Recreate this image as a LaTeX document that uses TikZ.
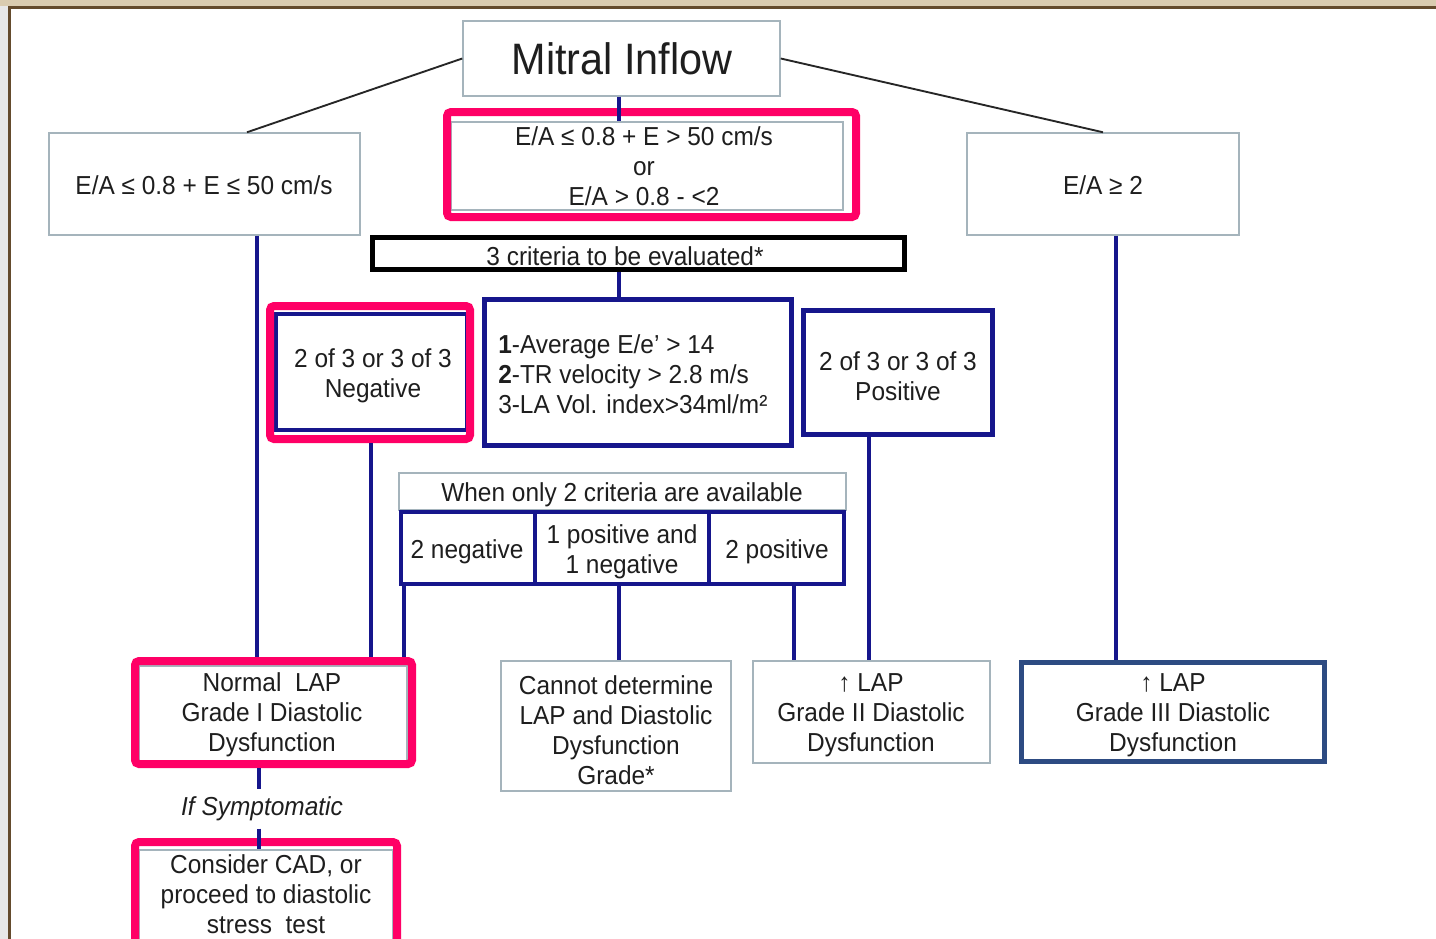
\documentclass[tikz,border=0pt]{standalone}
\usepackage{fontspec}
\setmainfont{Liberation Sans}[FakeStretch=0.94]
\usetikzlibrary{fit,calc}
\definecolor{pinkc}{RGB}{255,0,102}
\definecolor{navyc}{RGB}{22,22,140}
\definecolor{greyc}{RGB}{165,180,188}
\definecolor{steelc}{RGB}{45,75,130}
\definecolor{tanc}{RGB}{218,204,176}
\definecolor{brownc}{RGB}{100,75,45}
\definecolor{sidec}{RGB}{232,232,232}
\definecolor{txtc}{RGB}{30,30,30}
\newcommand\mytxt{\fontsize{19.5}{22.5}\selectfont}
\newcommand\mybig{\fontsize{33}{36}\selectfont}
\begin{document}
\begin{tikzpicture}[x=0.75pt,y=-0.75pt,
  thinbox/.style={draw=greyc, line width=1.1pt, inner sep=0pt},
  bluebox/.style={draw=navyc, line width=3.5pt, inner sep=0pt},
  pinkframe/.style={draw=pinkc, line width=6pt, rounded corners=3pt, inner sep=0pt},
  blackbox/.style={draw=black, line width=3.75pt, inner sep=0pt},
  blueline/.style={draw=navyc, line width=2.3pt},
  blackline/.style={draw=black!85, line width=1.4pt},
  plain/.style={inner sep=0pt, align=center, font=\mytxt, text=txtc},
  low/.style={yshift=-2.2pt}]
\useasboundingbox (0,0) rectangle (1436,939);
\clip (0,0) rectangle (1436,939);
% frame
\fill[white] (0,0) rectangle (1436,939);
\fill[tanc] (0,0) rectangle (1436,6);
\fill[sidec] (0,6) rectangle (8,939);
\fill[brownc] (8,6) rectangle (1436,9);
\fill[brownc] (8,6) rectangle (11,939);

% coordinates for vertical connectors
\coordinate (xA) at (257,0);
\coordinate (xB) at (371,0);
\coordinate (xC) at (404,0);
\coordinate (xD) at (619,0);
\coordinate (xE) at (794,0);
\coordinate (xF) at (869,0);
\coordinate (xG) at (1116,0);
\coordinate (xS) at (259,0);

% top row
\node[thinbox, fit={(463,21)(780,96)}] (mitral) {};
\node[plain, font=\mybig] (mitraltxt) at (622,59) {Mitral Inflow};
\node[thinbox, fit={(49,133)(360,235)}] (lbox) {};
\node[plain] (ltxt) at (204,185) {E/A ≤ 0.8 + E ≤ 50 cm/s};
\node[thinbox, fit={(451,122)(843,210)}] (mbox) {};
\node[plain] (mtxt) at (644,166) {E/A ≤ 0.8 + E > 50 cm/s\\or\\E/A > 0.8 - <2};
\node[thinbox, fit={(967,133)(1239,235)}] (rbox) {};
\node[plain] (rtxt) at (1103,185) {E/A ≥ 2};

% criteria
\node[blackbox, fit={(372.5,237.5)(904.5,269.5)}] (three) {};
\node[plain] (threetxt) at (625,256) {3 criteria to be evaluated*};
\node[bluebox, fit={(484.5,299.5)(791.5,445.5)}] (crit) {};
\node[plain, align=left, anchor=west] (crittxt) at (498,374)
  {\textbf{1}-Average E/e’ > 14\\\textbf{2}-TR velocity > 2.8 m/s\\3-LA Vol. index>34ml/m²};
\node[bluebox, line width=3pt, fit={(276,314)(467,430)}] (neg) {};
\node[plain, low] (negtxt) at (373,373) {2 of 3 or 3 of 3\\Negative};
\node[bluebox, line width=4pt, fit={(803.5,310.5)(992.5,434.5)}] (pos) {};
\node[plain, low] (postxt) at (898,373) {2 of 3 or 3 of 3\\Positive};

% two criteria
\node[thinbox, fit={(399,473)(846,510)}] (when) {};
\node[plain, low] (whentxt) at (622,492) {When only 2 criteria are available};
\node[bluebox, line width=3pt, fit={(401,512)(535,584)}] (twoneg) {};
\node[plain, low] (twonegtxt) at (467,549) {2 negative};
\node[bluebox, line width=3pt, fit={(535,512)(709,584)}] (onepos) {};
\node[plain, low] (onepostxt) at (622,549) {1 positive and\\1 negative};
\node[bluebox, line width=3pt, fit={(709,512)(844,584)}] (twopos) {};
\node[plain, low] (twopostxt) at (777,549) {2 positive};

% outcomes
\node[thinbox, fit={(139,666)(407,761)}] (normal) {};
\node[plain, low] (normaltxt) at (272,712) {Normal\ \ LAP\\Grade I Diastolic\\Dysfunction};
\node[thinbox, fit={(501,661)(731,791)}] (cannot) {};
\node[plain, low] (cannottxt) at (616,727) {Cannot determine\\LAP and Diastolic\\Dysfunction\\Grade*};
\node[thinbox, fit={(753,661)(990,763)}] (grade2) {};
\node[plain, low] (grade2txt) at (871,712) {↑ LAP\\Grade II Diastolic\\Dysfunction};
\node[bluebox, draw=steelc, line width=3.75pt, fit={(1021.5,662.5)(1324.5,761.5)}] (grade3) {};
\node[plain, low] (grade3txt) at (1173,712) {↑ LAP\\Grade III Diastolic\\Dysfunction};
\node[thinbox, fit={(139,850)(393,960)}] (cad) {};
\node[plain] (cadtxt) at (266,894) {Consider CAD, or\\proceed to diastolic\\stress\ \ test};
\node[plain, low, font=\mytxt\itshape, minimum height=29pt] (symp) at (262,806) {If Symptomatic};

% pink highlight frames
\node[pinkframe, fit={(447,112)(856,217)}] (mpink) {};
\node[pinkframe, fit={(270,306)(470,439)}] (negpink) {};
\node[pinkframe, fit={(135,661)(412,764)}] (normpink) {};
\node[pinkframe, fit={(135,842)(397,960)}] (cadpink) {};

% connectors
\draw[blackline] (mitral.west) -- ($(lbox.north)+(42.5,0)$);
\draw[blackline] (mitral.east) -- (rbox.north);
\draw[blueline] (xD |- mitral.south) -- (xD |- mbox.north);
\draw[blueline] (xD |- three.south) -- (xD |- crit.north);
\draw[blueline] (xA |- lbox.south) -- (xA |- normpink.north);
\draw[blueline] (xB |- negpink.south) -- (xB |- normpink.north);
\draw[blueline] (xC |- twoneg.south) -- (xC |- normpink.north);
\draw[blueline] (xD |- onepos.south) -- (xD |- cannot.north);
\draw[blueline] (xE |- twopos.south) -- (xE |- grade2.north);
\draw[blueline] (xF |- pos.south) -- (xF |- grade2.north);
\draw[blueline] (xG |- rbox.south) -- (xG |- grade3.north);
\draw[blueline] (xS |- normpink.south) -- (xS |- symp.north);
\draw[blueline] (xS |- symp.south) -- (xS |- cad.north);
\end{tikzpicture}
\end{document}
